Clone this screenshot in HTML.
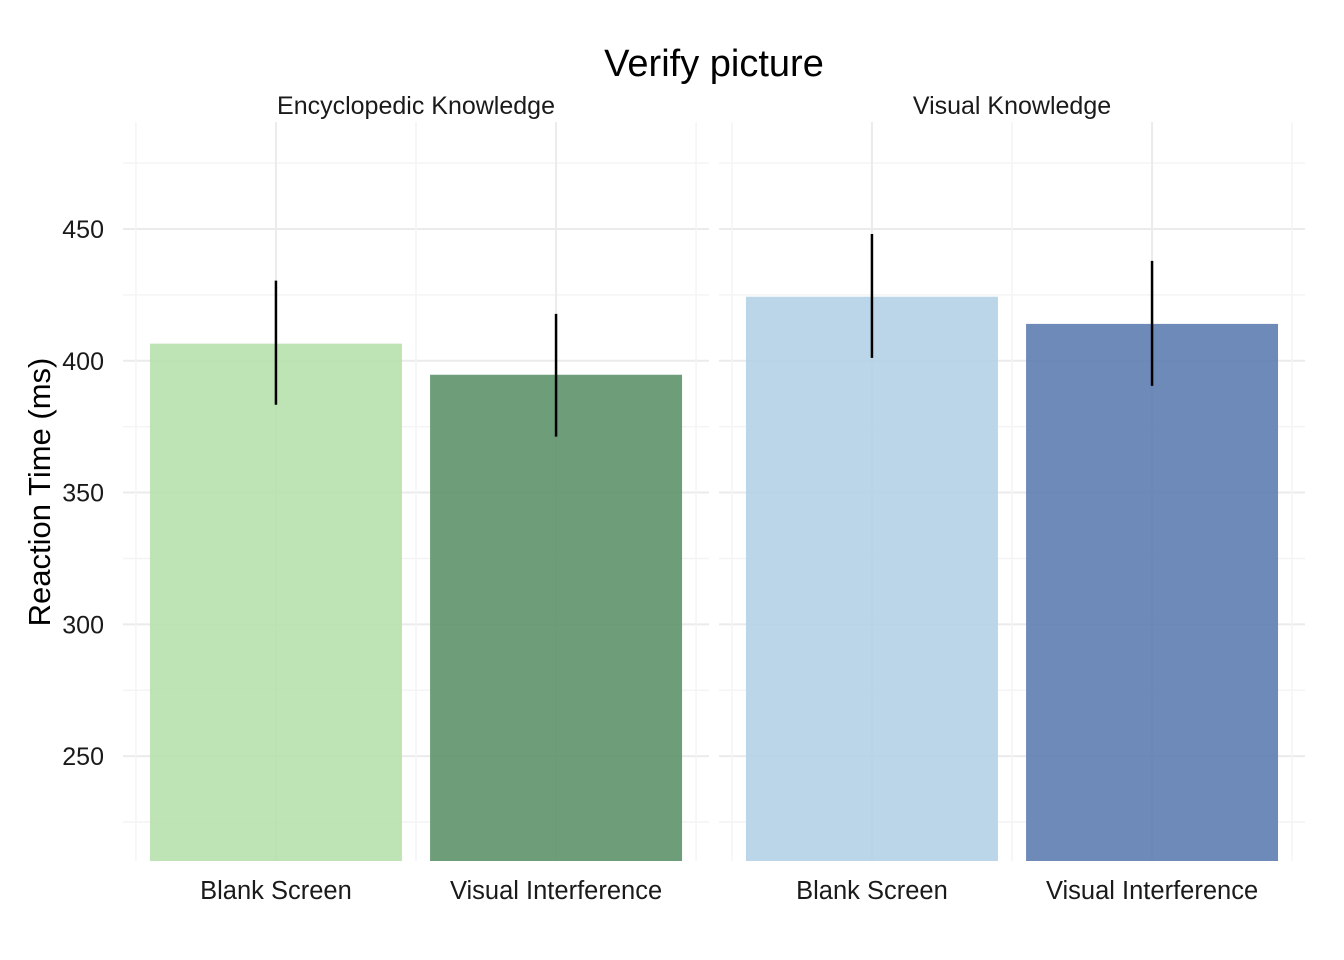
<!DOCTYPE html>
<html><head><meta charset="utf-8"><style>
body{margin:0;background:#fff;}
svg{display:block;font-family:"Liberation Sans",Arial,sans-serif;}
</style></head><body>
<svg id="chart" width="1344" height="960">
<text x="714" y="76" text-anchor="middle" font-size="38" fill="#000">Verify picture</text>
<text transform="translate(50,492) rotate(-90)" text-anchor="middle" font-size="31" fill="#000">Reaction Time (ms)</text>
<g id="g"></g>
</svg>
<script>
const panels=["Encyclopedic Knowledge","Visual Knowledge"];
const categories=["Blank Screen","Visual Interference"];
const means=[[406.5,394.7],[424.3,414.0]];
const upper=[[430.4,417.8],[448.1,437.9]];
const lower=[[383.3,371.2],[401.1,390.5]];
const yTicks=[250,300,350,400,450];
const colors=[["#b7e0ad","#5e936a"],["#b3d2e5","#5e7db0"]];
const NS="http://www.w3.org/2000/svg";
const g=document.getElementById("g");
const yMin=210.2,yMax=490.6,yTop=122,yBot=861;
function y(v){return yBot-(v-yMin)/(yMax-yMin)*(yBot-yTop);}
const panelX=[123,719],panelW=586;
function x(p,i){return panelX[p]+panelW*(0.261+0.478*i);}
function mk(t,a,name){const e=document.createElementNS(NS,t);for(const k in a)e.setAttribute(k,a[k]);


g.appendChild(e);return e;}
panels.forEach((pn,p)=>{
  const x0=panelX[p],x1=x0+panelW;
  for(let k=0;k<yTicks.length+1;k++){const v=yTicks[0]-25+50*k;if(v>yMin&&v<yMax)mk("line",{x1:x0,x2:x1,y1:y(v),y2:y(v),stroke:"#f4f4f4","stroke-width":1.5},"minor-gridline");}
  yTicks.forEach(v=>mk("line",{x1:x0,x2:x1,y1:y(v),y2:y(v),stroke:"#ebebeb","stroke-width":2},"major-gridline"));
  [-0.5,0.5,1.5].forEach(i=>{const xx=x(p,0)+(x(p,1)-x(p,0))*(i);mk("line",{x1:xx,x2:xx,y1:yTop,y2:yBot,stroke:"#f4f4f4","stroke-width":1.5},"minor-x-gridline");});
  categories.forEach((c,i)=>mk("line",{x1:x(p,i),x2:x(p,i),y1:yTop,y2:yBot,stroke:"#ebebeb","stroke-width":2},"major-x-gridline"));
  const bw=panelW*0.43;
  categories.forEach((c,i)=>{
    mk("rect",{x:x(p,i)-bw/2,y:y(means[p][i]),width:bw,height:yBot-y(means[p][i]),fill:colors[p][i],"fill-opacity":0.9},"bar-"+p+"-"+i);
    mk("line",{x1:x(p,i),x2:x(p,i),y1:y(upper[p][i]),y2:y(lower[p][i]),stroke:"#000","stroke-width":2.5},"error-bar");
    const t=mk("text",{x:x(p,i),y:899,"text-anchor":"middle","font-size":25.5,fill:"#1a1a1a"},"x-tick-label");t.textContent=c;
  });
  const s=mk("text",{x:x0+panelW/2,y:114,"text-anchor":"middle","font-size":25,fill:"#1a1a1a"},"facet-label");s.textContent=pn;
});
yTicks.forEach(v=>{const t=mk("text",{x:104,y:y(v)+9,"text-anchor":"end","font-size":25,fill:"#1a1a1a"},"y-tick-label");t.textContent=v;});
</script>
</body></html>
